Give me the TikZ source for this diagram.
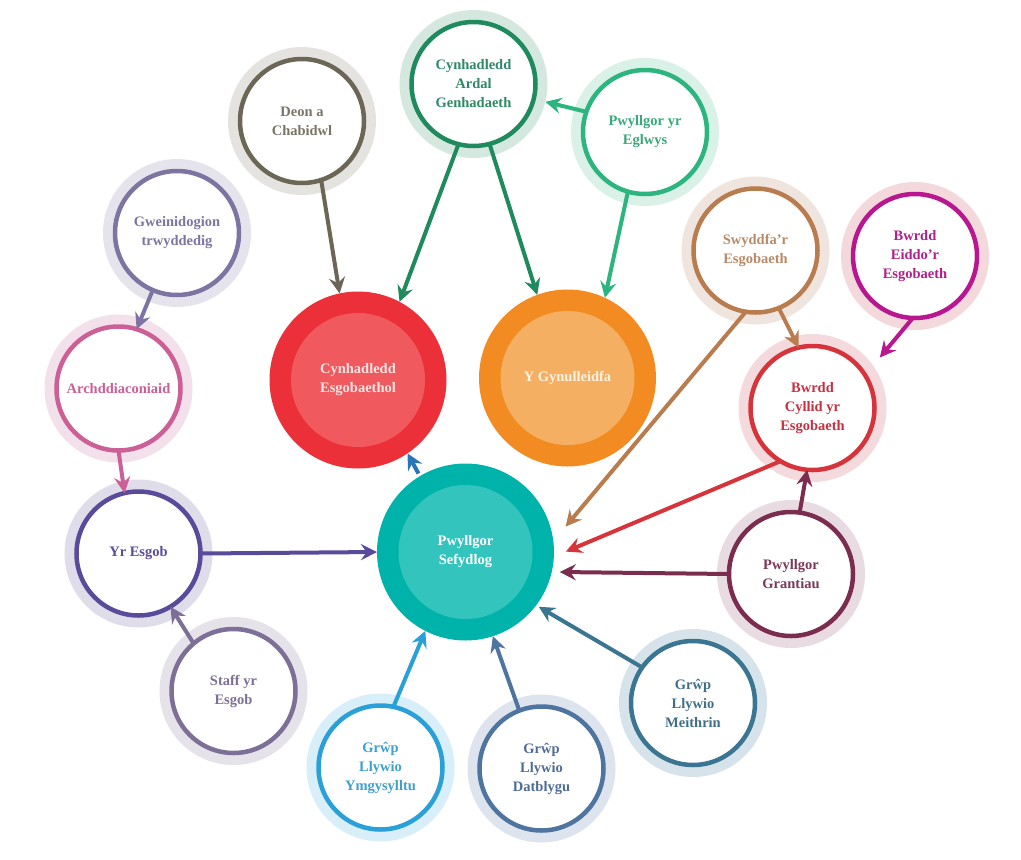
\documentclass[tikz,border=0pt]{standalone}
\usepackage{fontspec}
\setmainfont{Liberation Serif}
\usetikzlibrary{arrows.meta}
\definecolor{deonR}{HTML}{6B6656}\definecolor{deonH}{HTML}{E4E3DF}\definecolor{deonT}{HTML}{7A7566}
\definecolor{ardalR}{HTML}{1E8A5E}\definecolor{ardalH}{HTML}{D5E8E0}\definecolor{ardalT}{HTML}{2E8A66}
\definecolor{eglR}{HTML}{2DB57F}\definecolor{eglH}{HTML}{D9F1E7}\definecolor{eglT}{HTML}{3AA87A}
\definecolor{swyR}{HTML}{B87C4F}\definecolor{swyH}{HTML}{EFE4DE}\definecolor{swyT}{HTML}{B98A66}
\definecolor{eidR}{HTML}{B8178F}\definecolor{eidH}{HTML}{F3D8DC}\definecolor{eidT}{HTML}{B0208A}
\definecolor{cylR}{HTML}{D6343A}\definecolor{cylH}{HTML}{F5DADD}\definecolor{cylT}{HTML}{C83040}
\definecolor{graR}{HTML}{7B2D4F}\definecolor{graH}{HTML}{E9DBE2}\definecolor{graT}{HTML}{7B3858}
\definecolor{meiR}{HTML}{3A7592}\definecolor{meiH}{HTML}{D7E3EA}\definecolor{meiT}{HTML}{3F6F88}
\definecolor{datR}{HTML}{4F74A0}\definecolor{datH}{HTML}{DDE4ED}\definecolor{datT}{HTML}{4F6C96}
\definecolor{ymgR}{HTML}{2AA0D8}\definecolor{ymgH}{HTML}{D8EEF8}\definecolor{ymgT}{HTML}{3FA0CF}
\definecolor{staR}{HTML}{7D6F95}\definecolor{staH}{HTML}{E5E2EA}\definecolor{staT}{HTML}{7D6F95}
\definecolor{esgR}{HTML}{5A4A9A}\definecolor{esgH}{HTML}{E0DDEB}\definecolor{esgT}{HTML}{5A4C98}
\definecolor{arcR}{HTML}{CC5F95}\definecolor{arcH}{HTML}{F2E1EB}\definecolor{arcT}{HTML}{CC5F95}
\definecolor{gweR}{HTML}{7E74A2}\definecolor{gweH}{HTML}{E5E3EC}\definecolor{gweT}{HTML}{7E74A2}
\definecolor{cesO}{HTML}{EC3039}\definecolor{cesI}{HTML}{F0595D}\definecolor{cesT}{HTML}{FBE4E4}
\definecolor{gynO}{HTML}{F28C22}\definecolor{gynI}{HTML}{F5AF62}\definecolor{gynT}{HTML}{FDF2E4}
\definecolor{sefO}{HTML}{00B3AA}\definecolor{sefI}{HTML}{33C4BD}\definecolor{sefT}{HTML}{FFFFFF}
\definecolor{blueA}{HTML}{2A74B8}
\begin{document}
\begin{tikzpicture}[x=1pt,y=-1pt,
  lbl/.style={align=center, font=\bfseries\fontsize{14.5}{19}\selectfont},
  ringnode/.style n args={3}{lbl, circle, minimum size=124pt, inner sep=0pt, outer sep=0pt,
     fill=white, draw=#1, line width=4.5pt, text=#3, preaction={draw=#2, line width=24pt}},
  bignode/.style n args={3}{lbl, circle, minimum size=177pt, inner sep=0pt, outer sep=0pt,
     fill=#1, text=#3, path picture={\fill[#2] (path picture bounding box.center) circle (67pt);}},
  conn/.style={line width=4pt, -{Stealth[length=16pt,width=16pt,inset=5.5pt]}},
]
\useasboundingbox (0,0) rectangle (1021,860);
% central filled circles
\node[bignode={cesO}{cesI}{cesT}] (ces) at (358,380) {Cynhadledd\\Esgobaethol};
\node[bignode={gynO}{gynI}{gynT}] (gyn) at (567.5,378) {Y Gynulleidfa};
\node[bignode={sefO}{sefI}{sefT}] (sef) at (465.5,552) {Pwyllgor\\Sefydlog};
% ring nodes
\node[ringnode={deonR}{deonH}{deonT}] (deon) at (302,121) {Deon a\\Chabidwl};
\node[ringnode={ardalR}{ardalH}{ardalT}] (ardal) at (473.5,84) {Cynhadledd\\Ardal\\Genhadaeth};
\node[ringnode={eglR}{eglH}{eglT}] (egl) at (645,132) {Pwyllgor yr\\Eglwys};
\node[ringnode={swyR}{swyH}{swyT}] (swy) at (755.5,250.5) {Swyddfa’r\\Esgobaeth};
\node[ringnode={eidR}{eidH}{eidT}] (eid) at (915,256) {Bwrdd\\Eiddo’r\\Esgobaeth};
\node[ringnode={cylR}{cylH}{cylT}] (cyl) at (812.5,408) {Bwrdd\\Cyllid yr\\Esgobaeth};
\node[ringnode={graR}{graH}{graT}] (gra) at (791,574) {Pwyllgor\\Grantiau};
\node[ringnode={meiR}{meiH}{meiT}] (mei) at (693,703) {Grŵp\\Llywio\\Meithrin};
\node[ringnode={datR}{datH}{datT}] (dat) at (541.5,768.5) {Grŵp\\Llywio\\Datblygu};
\node[ringnode={ymgR}{ymgH}{ymgT}] (ymg) at (380.5,767.5) {Grŵp\\Llywio\\Ymgysylltu};
\node[ringnode={staR}{staH}{staT}] (sta) at (233.5,691) {Staff yr\\Esgob};
\node[ringnode={esgR}{esgH}{esgT}] (esg) at (138.5,553.5) {Yr Esgob};
\node[ringnode={arcR}{arcH}{arcT}] (arc) at (118.5,388.5) {Archddiaconiaid};
\node[ringnode={gweR}{gweH}{gweT}] (gwe) at (177,233) {Gweinidogion\\trwyddedig};
% connectors
\draw[conn, draw=deonR, fill=deonR] (deon.-72) -- (ces.102);
\draw[conn, draw=ardalR, fill=ardalR] (ardal.-104) -- (ces.62);
\draw[conn, draw=ardalR, fill=ardalR] (ardal.-75) -- (gyn.110);
\draw[conn, draw=eglR, fill=eglR, shorten >=12pt] (egl.161) -- (ardal.-14);
\draw[conn, draw=eglR, fill=eglR] (egl.-106) -- (gyn.65);
\draw[conn, draw=swyR, fill=swyR] (swy.-68) -- (cyl.103);
\draw[conn, draw=swyR, fill=swyR, shorten >=19pt] (swy.-99.5) -- (sef.7.5);
\draw[conn, draw=eidR, fill=eidR, shorten >=23pt] (eid.-92) -- (cyl.32);
\draw[conn, draw=cylR, fill=cylR, shorten >=13pt] (cyl.-121) -- (sef.-3.4);
\draw[conn, draw=graR, fill=graR] (gra.82) -- (cyl.-95);
\draw[conn, draw=graR, fill=graR, shorten >=8pt] (gra.west) -- (sef.-13.5);
\draw[conn, draw=meiR, fill=meiR, shorten >=3pt] (mei.145) -- (sef.-37.7);
\draw[conn, draw=datR, fill=datR] (dat.111) -- (sef.-72);
\draw[conn, draw=ymgR, fill=ymgR] (ymg.78) -- (sef.-117);
\draw[conn, draw=blueA, fill=blueA, shorten <=3pt] (sef.121) -- (ces.-56);
\draw[conn, draw=esgR, fill=esgR] (esg.east) -- (sef.west);
\draw[conn, draw=staR, fill=staR] (sta.130) -- (esg.-59);
\draw[conn, draw=gweR, fill=gweR] (gwe.-113) -- (arc.73);
\draw[conn, draw=arcR, fill=arcR] (arc.-90) -- (esg.103);
\end{tikzpicture}
\end{document}
